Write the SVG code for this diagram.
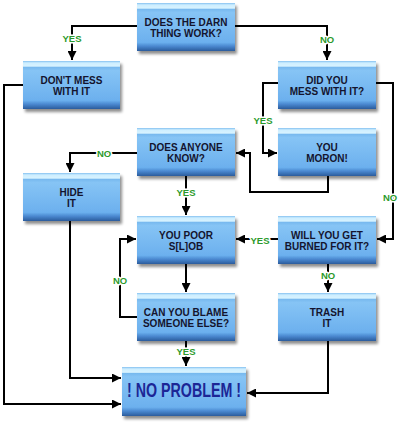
<svg xmlns="http://www.w3.org/2000/svg" width="400" height="422" viewBox="0 0 400 422">
<defs>
<linearGradient id="bg" x1="0" y1="0" x2="0" y2="1">
<stop offset="0" stop-color="#84c0f0"/>
<stop offset="0.04" stop-color="#cdeeff"/>
<stop offset="0.11" stop-color="#d8f3ff"/>
<stop offset="0.125" stop-color="#76b8ee"/>
<stop offset="0.2" stop-color="#86c4f5"/>
<stop offset="0.82" stop-color="#6cb0ee"/>
<stop offset="0.9" stop-color="#4a88d0"/>
<stop offset="1" stop-color="#2a5c9c"/>
</linearGradient>
<filter id="sh" x="-10%" y="-10%" width="125%" height="135%">
<feGaussianBlur in="SourceAlpha" stdDeviation="1.6"/>
<feOffset dx="1.5" dy="2.5" result="b"/>
<feComponentTransfer><feFuncA type="linear" slope="0.45"/></feComponentTransfer>
<feMerge><feMergeNode/><feMergeNode in="SourceGraphic"/></feMerge>
</filter>
<marker id="ah" viewBox="0 0 10 10" refX="10" refY="5" markerWidth="4.5" markerHeight="4.5" orient="auto" markerUnits="strokeWidth">
<path d="M0,0 L10,5 L0,10 z" fill="#000"/>
</marker>
<style>
.box{fill:url(#bg);filter:url(#sh)}
.t{font-family:"Liberation Sans",Arial,sans-serif;font-weight:bold;font-size:10px;fill:#14142e;text-anchor:middle}
.big{font-family:"Liberation Sans",Arial,sans-serif;font-weight:bold;font-size:21px;fill:#1c2696;text-anchor:middle}
.c path{fill:none;stroke:#000;stroke-width:2;stroke-linejoin:miter}
.lb{font-family:"Liberation Sans",Arial,sans-serif;font-weight:bold;font-size:9.5px;fill:#2c9a2c;text-anchor:middle;stroke:#fff;stroke-width:3;paint-order:stroke;stroke-linejoin:round}
</style>
</defs>
<rect width="400" height="422" fill="#fff"/>

<g class="c" id="connectors">
<path d="M137,26 H72 V60" marker-end="url(#ah)"/>
<path d="M235,26 H327 V60" marker-end="url(#ah)"/>
<path d="M23,85 H4 V404 H121" marker-end="url(#ah)"/>
<path d="M376,83 H393 V239 H377" marker-end="url(#ah)"/>
<path d="M278,83 H263 V153 H277" marker-end="url(#ah)"/>
<path d="M328,176 V192 H250 V153 H236" marker-end="url(#ah)"/>
<path d="M137,153 H70 V172" marker-end="url(#ah)"/>
<path d="M186,176 V215" marker-end="url(#ah)"/>
<path d="M278,239 H236" marker-end="url(#ah)"/>
<path d="M328,264 V292" marker-end="url(#ah)"/>
<path d="M137,317 H120 V239 H136" marker-end="url(#ah)"/>
<path d="M186,264 V292" marker-end="url(#ah)"/>
<path d="M186,341 V366" marker-end="url(#ah)"/>
<path d="M70,221 V378 H121" marker-end="url(#ah)"/>
<path d="M328,341 V393 H247" marker-end="url(#ah)"/>
</g>

<g id="labels">
<text class="lb" x="72" y="42">YES</text>
<text class="lb" x="327" y="43">NO</text>
<text class="lb" x="263" y="124">YES</text>
<text class="lb" x="390" y="201">NO</text>
<text class="lb" x="104" y="157">NO</text>
<text class="lb" x="186" y="196">YES</text>
<text class="lb" x="260" y="244">YES</text>
<text class="lb" x="328" y="279">NO</text>
<text class="lb" x="120" y="284">NO</text>
<text class="lb" x="186" y="355">YES</text>
</g>

<g id="n-work"><rect class="box" x="137" y="3" width="98" height="48"/><text class="t" x="186" y="26">DOES THE DARN</text><text class="t" x="186" y="37">THING WORK?</text></g>
<g id="n-dontmess"><rect class="box" x="23" y="61" width="97" height="48"/><text class="t" x="71.5" y="84">DON'T MESS</text><text class="t" x="71.5" y="95">WITH IT</text></g>
<g id="n-didyou"><rect class="box" x="278" y="61" width="98" height="48"/><text class="t" x="327" y="84">DID YOU</text><text class="t" x="327" y="95">MESS WITH IT?</text></g>
<g id="n-anyone"><rect class="box" x="137" y="128" width="98" height="48"/><text class="t" x="186" y="151">DOES ANYONE</text><text class="t" x="186" y="162">KNOW?</text></g>
<g id="n-moron"><rect class="box" x="278" y="128" width="98" height="48"/><text class="t" x="327" y="151">YOU</text><text class="t" x="327" y="162">MORON!</text></g>
<g id="n-hide"><rect class="box" x="23" y="173" width="97" height="48"/><text class="t" x="71.5" y="196">HIDE</text><text class="t" x="71.5" y="207">IT</text></g>
<g id="n-poor"><rect class="box" x="137" y="216" width="98" height="48"/><text class="t" x="186" y="239">YOU POOR</text><text class="t" x="186" y="250">S[L]OB</text></g>
<g id="n-burned"><rect class="box" x="278" y="216" width="98" height="48"/><text class="t" x="327" y="239">WILL YOU GET</text><text class="t" x="327" y="250">BURNED FOR IT?</text></g>
<g id="n-blame"><rect class="box" x="137" y="293" width="98" height="48"/><text class="t" x="186" y="316">CAN YOU BLAME</text><text class="t" x="186" y="327">SOMEONE ELSE?</text></g>
<g id="n-trash"><rect class="box" x="278" y="293" width="98" height="48"/><text class="t" x="327" y="316">TRASH</text><text class="t" x="327" y="327">IT</text></g>
<g id="n-noproblem"><rect class="box" x="122" y="367" width="124" height="49"/><text class="big" x="184" y="397" textLength="114" lengthAdjust="spacingAndGlyphs">! NO PROBLEM !</text></g>
</svg>
